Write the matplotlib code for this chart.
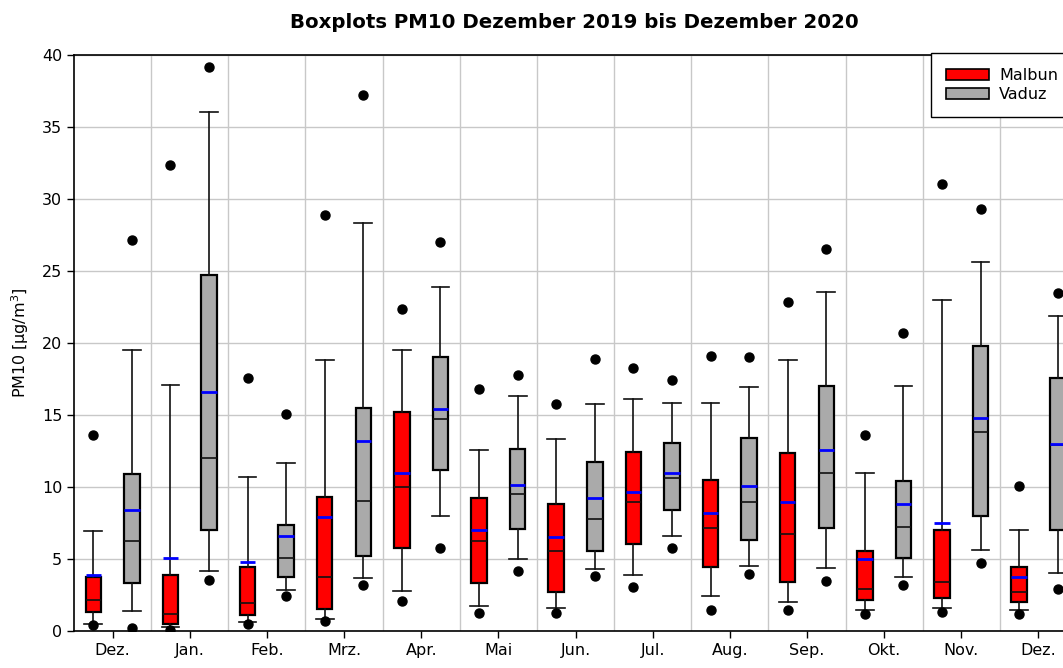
import matplotlib
matplotlib.use("Agg")
import matplotlib.pyplot as plt
from matplotlib.patches import Patch

months = ["Dez.", "Jan.", "Feb.", "Mrz.", "Apr.", "Mai", "Jun.", "Jul.",
          "Aug.", "Sep.", "Okt.", "Nov.", "Dez."]

# Malbun statistics per month
malbun_min = [0.4, 0.08, 0.48, 0.69, 2.07, 1.28, 1.28, 3.08, 1.46, 1.46, 1.17, 1.30, 1.17]
malbun_wlo = [0.5, 0.27, 0.64, 0.82, 2.79, 1.73, 1.59, 3.91, 2.42, 2.02, 1.44, 1.62, 1.44]
malbun_q1 = [1.33, 0.5, 1.14, 1.54, 5.79, 3.32, 2.71, 6.03, 4.41, 3.43, 2.13, 2.26, 2.02]
malbun_med = [2.15, 1.20, 1.91, 3.72, 10.02, 6.22, 5.53, 8.93, 7.12, 6.72, 2.92, 3.43, 2.74]
malbun_mean = [3.88, 5.10, 4.81, 7.95, 10.95, 7.04, 6.56, 9.62, 8.21, 8.93, 5.00, 7.52, 3.72]
malbun_q3 = [3.72, 3.91, 4.46, 9.33, 15.23, 9.22, 8.82, 12.41, 10.52, 12.33, 5.53, 7.04, 4.41]
malbun_whi = [6.94, 17.06, 10.66, 18.84, 19.51, 12.60, 13.34, 16.10, 15.81, 18.79, 11.00, 22.99, 7.04]
malbun_max = [13.58, 32.39, 17.57, 28.86, 22.35, 16.82, 15.76, 18.26, 19.08, 22.85, 13.58, 31.04, 10.05]

# Vaduz statistics per month
vaduz_min = [0.19, 3.51, 2.44, 3.16, 5.79, 4.17, 3.83, 5.74, 3.93, 3.48, 3.19, 4.73, 2.92]
vaduz_wlo = [1.41, 4.20, 2.84, 3.69, 7.97, 5.00, 4.28, 6.59, 4.49, 4.38, 3.77, 5.63, 4.04]
vaduz_q1 = [3.32, 7.04, 3.72, 5.18, 11.21, 7.10, 5.55, 8.37, 6.32, 7.18, 5.10, 7.97, 6.99]
vaduz_med = [6.27, 12.04, 5.10, 9.06, 14.70, 9.51, 7.81, 10.60, 8.98, 11.00, 7.23, 13.82, 12.90]
vaduz_mean = [8.37, 16.61, 6.59, 13.18, 15.44, 10.15, 9.22, 10.95, 10.05, 12.60, 8.85, 14.80, 12.97]
vaduz_q3 = [10.87, 24.74, 7.36, 15.52, 19.00, 12.65, 11.77, 13.07, 13.39, 17.03, 10.42, 19.82, 17.59]
vaduz_whi = [19.48, 36.06, 11.64, 28.30, 23.89, 16.34, 15.76, 15.86, 16.95, 23.54, 16.98, 25.64, 21.87]
vaduz_max = [27.13, 39.14, 15.07, 37.23, 27.03, 17.75, 18.92, 17.46, 19.00, 26.52, 20.70, 29.31, 23.47]

RED = "#ff0000"
GREY = "#aaaaaa"


def make_stats(mn, wlo, q1, med, mean, q3, whi, mx):
    return [dict(whislo=a, q1=b, med=c, mean=d, q3=e, whishi=f, fliers=[g, h])
            for a, b, c, d, e, f, g, h in zip(wlo, q1, med, mean, q3, whi, mn, mx)]


fig = plt.figure(figsize=(10.63, 6.68), dpi=100)
ax = fig.add_axes([74 / 1063, 37 / 668, (1077 - 74) / 1063, 576 / 668])

n = len(months)
pos = list(range(n))

common = dict(widths=0.2, capwidths=0.23, showmeans=True, meanline=True,
              patch_artist=True,
              whiskerprops=dict(color="#111111", linewidth=1.2),
              capprops=dict(color="#111111", linewidth=1.2),
              medianprops=dict(color="#111111", linewidth=1.2),
              meanprops=dict(color="#0000ff", linewidth=2.0, linestyle="-"),
              flierprops=dict(marker="o", markerfacecolor="black",
                              markeredgecolor="black", markersize=6.5))

ax.bxp(make_stats(malbun_min, malbun_wlo, malbun_q1, malbun_med, malbun_mean,
                  malbun_q3, malbun_whi, malbun_max),
       positions=[p - 0.25 for p in pos],
       boxprops=dict(facecolor=RED, edgecolor="black", linewidth=1.6),
       **common)
ax.bxp(make_stats(vaduz_min, vaduz_wlo, vaduz_q1, vaduz_med, vaduz_mean,
                  vaduz_q3, vaduz_whi, vaduz_max),
       positions=[p + 0.25 for p in pos],
       boxprops=dict(facecolor=GREY, edgecolor="black", linewidth=1.6),
       **common)

ax.set_xlim(-0.5, n - 0.5)
ax.set_ylim(0, 40)
ax.set_yticks(range(0, 41, 5))
ax.set_xticks(pos)
ax.set_xticklabels(months)
ax.set_xticks([p + 0.5 for p in pos[:-1]], minor=True)
ax.tick_params(axis="x", which="minor", length=0)
ax.tick_params(axis="both", which="major", direction="out", length=5,
               width=1, labelsize=11.5, color="black")
ax.grid(True, axis="y", which="major", color="#c8c8c8", linewidth=1.0)
ax.grid(True, axis="x", which="minor", color="#c8c8c8", linewidth=1.0)
ax.set_axisbelow(True)
for s in ax.spines.values():
    s.set_color("black")
    s.set_linewidth(1.2)

ax.set_ylabel("PM10 [µg/m$^3$]", fontsize=11.5, labelpad=8)
fig.text(574 / 1063, 1 - 22 / 668, "Boxplots PM10 Dezember 2019 bis Dezember 2020",
         ha="center", va="center", fontsize=14.2, fontweight="bold")

handles = [Patch(facecolor=RED, edgecolor="black", linewidth=1.2, label="Malbun"),
           Patch(facecolor=GREY, edgecolor="black", linewidth=1.2, label="Vaduz")]
leg = fig.legend(handles=handles, loc="upper left",
                 bbox_to_anchor=(931 / 1063, 1 - 53 / 668), bbox_transform=fig.transFigure,
                 fancybox=False, framealpha=1, edgecolor="black", fontsize=11.5,
                 borderaxespad=0, handlelength=2.7, handleheight=0.6,
                 labelspacing=0.25, handletextpad=0.6, borderpad=0.95)
leg.get_frame().set_linewidth(1.0)

fig.savefig("out.png", dpi=100)
